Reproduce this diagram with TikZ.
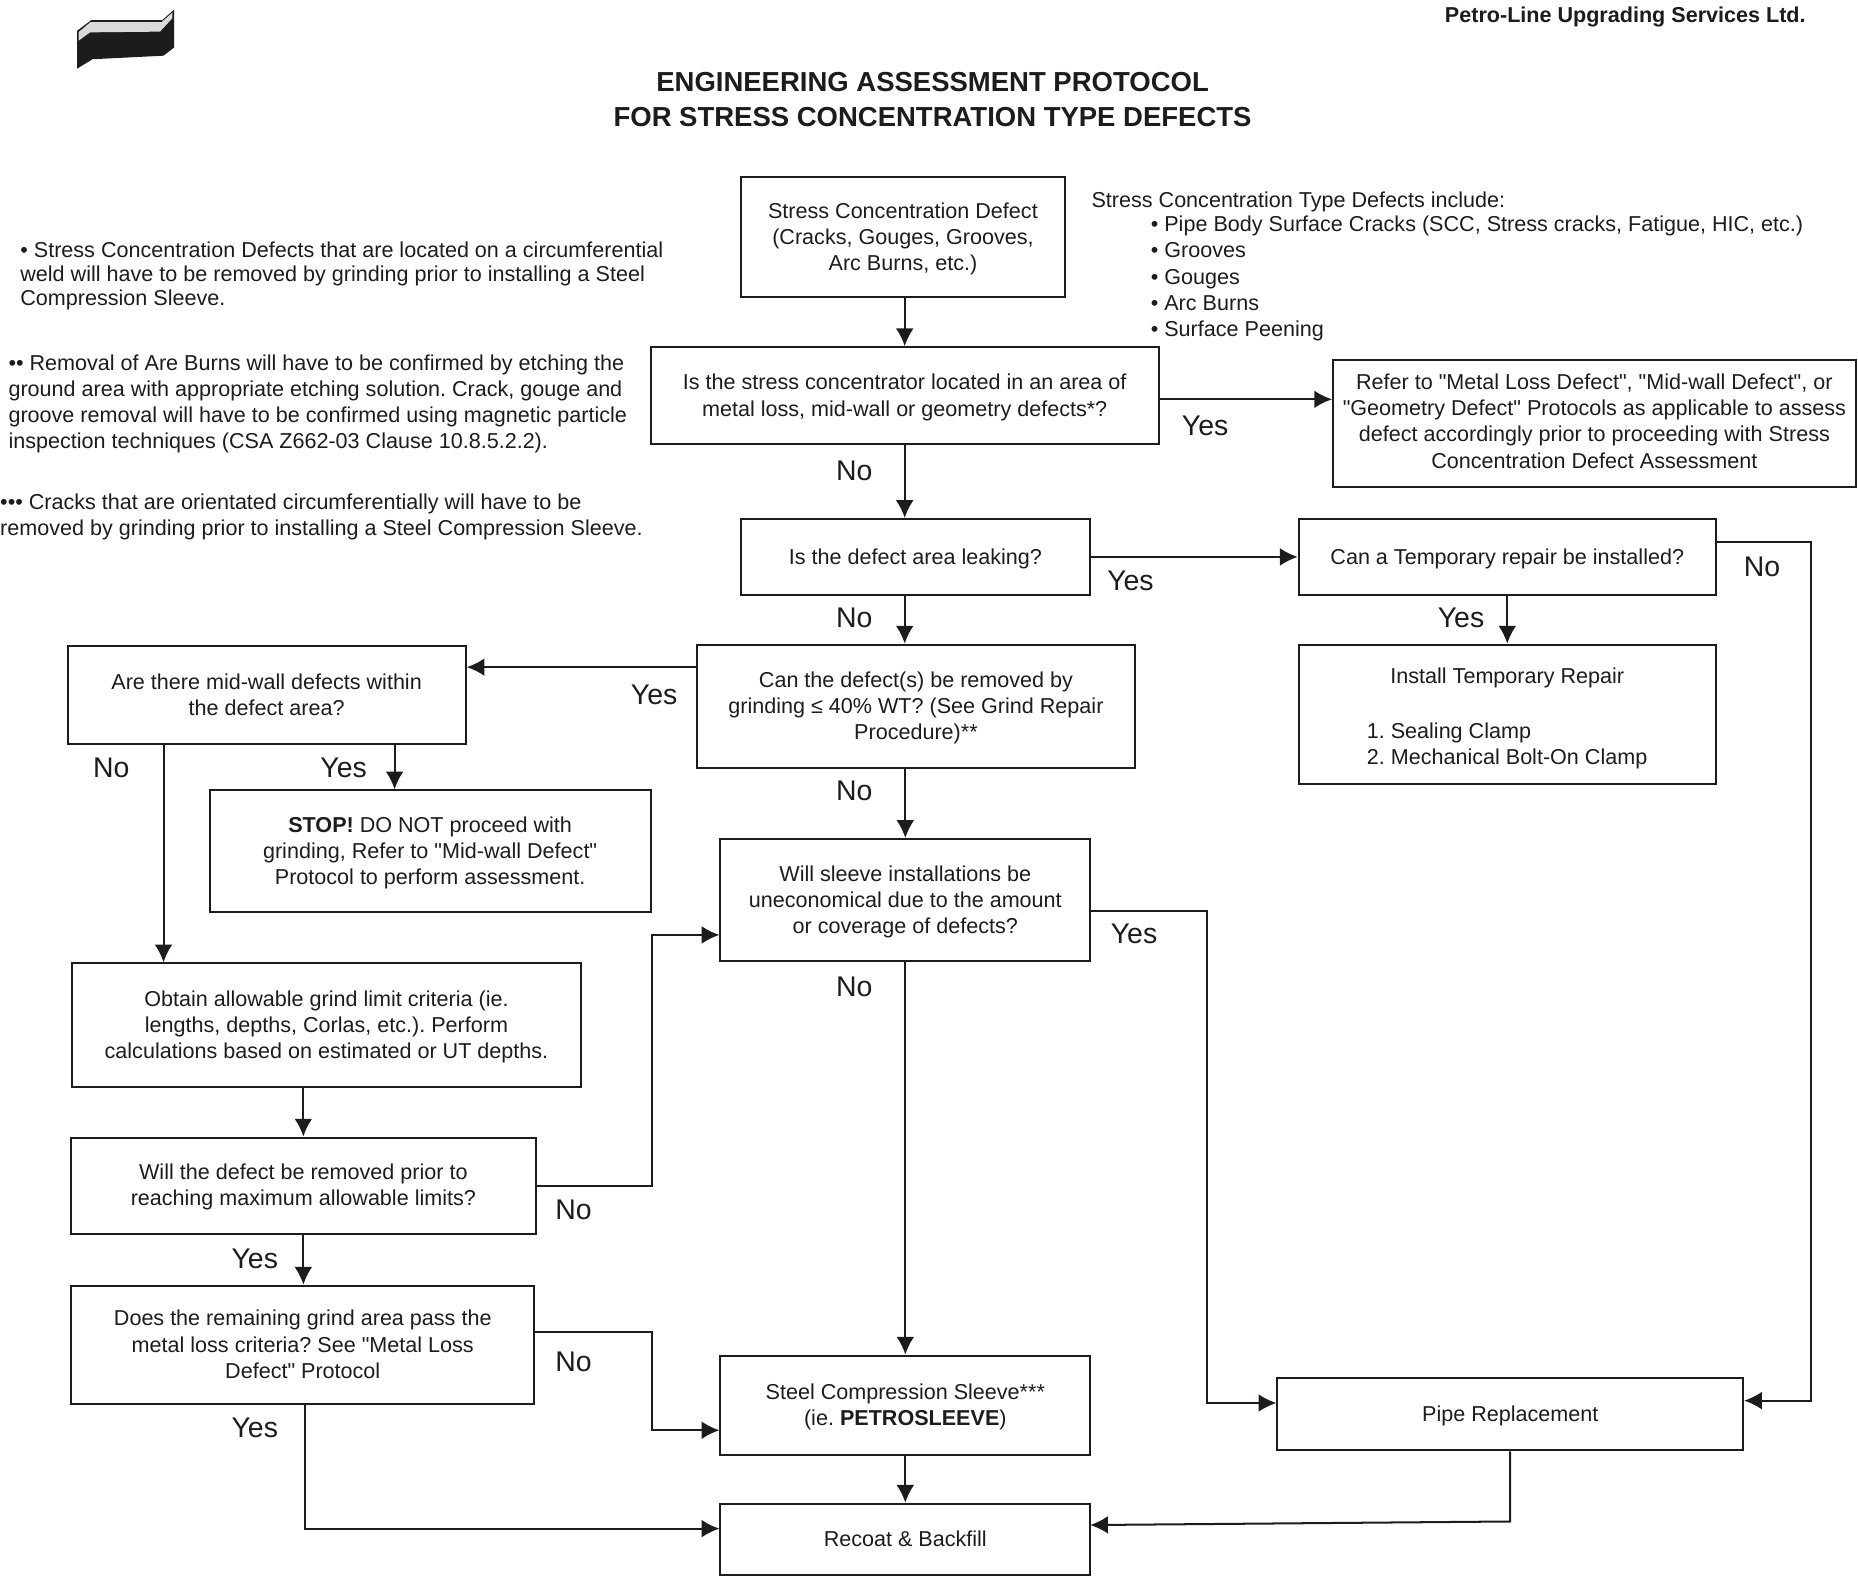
\documentclass[tikz,border=0pt]{standalone}
\usepackage{fontspec}
\setmainfont[Ligatures=TeXOff]{Liberation Sans}
\usetikzlibrary{arrows.meta}
\definecolor{inkblack}{RGB}{30,27,28}
\frenchspacing
\tikzset{
  flowbox/.style={draw=inkblack, line width=1.7pt, align=center, inner sep=0pt, text=inkblack,
    font=\fontsize{18.2}{22}\selectfont},
  flowline/.style={draw=inkblack, line width=1.7pt, inner sep=0pt, text=inkblack,
    font=\fontsize{18.2}{22}\selectfont,
    execute at begin node=\rule{0pt}{17pt},
    execute at end node=\rule[-5pt]{0pt}{5pt}},
  flownote/.style={anchor=west, align=left, inner sep=0pt, text=inkblack},
  answer/.style={inner sep=0pt, text=inkblack, font=\fontsize{24}{28}\selectfont},
  heading/.style={inner sep=0pt, align=center, text=inkblack, font=\bfseries\fontsize{23.2}{30}\selectfont},
  arr/.style={draw=inkblack, line width=1.7pt, -{Latex[length=15pt,width=15pt]}}
}
\newcommand{\bnode}[5]{\node [flowbox, minimum width=#3pt, minimum height=#4pt] (#1) at (#2) {\rule{0pt}{16pt}#5}}
\newcommand{\lnode}[5]{\node [flowline, minimum width=#3pt, minimum height=#4pt] (#1) at (#2) {#5}}
\newcommand{\anode}[3]{\node [answer] (#1) at (#2) {#3}}

\begin{document}
\begin{tikzpicture}[x=1pt, y=-1pt]
\useasboundingbox (0,0) rectangle (1568,1330);

% logo
\fill[inkblack] (65,26) -- (77,17) -- (137,17) -- (147,8) -- (147,40) -- (138,47) -- (78,50) -- (65,58) -- cycle;
\fill[gray!30] (66.4,27) -- (76.5,18.6) -- (136.4,18.6) -- (145.4,10.7) -- (145.4,15.5) -- (135,26.7) -- (76,27.3) -- (66.4,34.3) -- cycle;

% headings
\node [heading, anchor=east, font=\bfseries\fontsize{18.2}{22}\selectfont] (COMPANY) at (1524,14) {Petro-Line Upgrading Services Ltd.};
\node [heading] (TITLE) at (787,84) {ENGINEERING ASSESSMENT PROTOCOL\\FOR STRESS CONCENTRATION TYPE DEFECTS};

% notes
\node [flownote, font=\fontsize{18.2}{20}\selectfont] (NOTEA) at (17,233) {• Stress Concentration Defects that are located on a circumferential\\weld will have to be removed by grinding prior to installing a Steel\\Compression Sleeve.};
\node [flownote, font=\fontsize{18.2}{22}\selectfont] (NOTEB) at (7,341) {•• Removal of Are Burns will have to be confirmed by etching the\\ground area with appropriate etching solution. Crack, gouge and\\groove removal will have to be confirmed using magnetic particle\\inspection techniques (CSA Z662-03 Clause 10.8.5.2.2).};
\node [flownote, font=\fontsize{18.2}{22}\selectfont] (NOTEC) at (0,436) {••• Cracks that are orientated circumferentially will have to be\\removed by grinding prior to installing a Steel Compression Sleeve.};
\node [flownote, font=\fontsize{18.2}{22}\selectfont] (TYPES) at (921,170) {Stress Concentration Type Defects include:};
\node [flownote, font=\fontsize{18.2}{22.3}\selectfont] (TYPELIST) at (971,235) {• Pipe Body Surface Cracks (SCC, Stress cracks, Fatigue, HIC, etc.)\\• Grooves\\• Gouges\\• Arc Burns\\• Surface Peening};

% boxes
\bnode{START}{762,200}{274}{102}{Stress Concentration Defect\\(Cracks, Gouges, Grooves,\\Arc Burns, etc.)};
\bnode{LOC}{763.5,334}{429}{82}{Is the stress concentrator located in an area of\\metal loss, mid-wall or geometry defects*?};
\bnode{REFER}{1345.5,357.5}{441}{107}{\rule{0pt}{18pt}Refer to "Metal Loss Defect", "Mid-wall Defect", or\\"Geometry Defect" Protocols as applicable to assess\\defect accordingly prior to proceeding with Stress\\Concentration Defect Assessment\rule[-9pt]{0pt}{9pt}};
\lnode{LEAK}{772.5,470}{295}{64}{Is the defect area leaking?};
\lnode{TEMP}{1272,470}{352}{64}{Can a Temporary repair be installed?};
\bnode{GRIND}{773,596}{370}{104}{Can the defect(s) be removed by\\grinding ≤ 40\% WT? (See Grind Repair\\Procedure)**};
\bnode{INSTALL}{1272,603}{352}{118}{\rule{0pt}{20pt}Install Temporary Repair\\[24pt]\makebox[237pt][l]{1. Sealing Clamp}\\\makebox[237pt][l]{2. Mechanical Bolt-On Clamp}};
\bnode{MIDWALL}{225,586.5}{336}{83}{Are there mid-wall defects within\\the defect area?\rule[-4pt]{0pt}{4pt}};
\bnode{STOP}{363,718.5}{372}{103}{\textbf{STOP!} DO NOT proceed with\\grinding, Refer to "Mid-wall Defect"\\Protocol to perform assessment.};
\bnode{SLEEVEQ}{764,759.5}{312}{103}{Will sleeve installations be\\uneconomical due to the amount\\or coverage of defects?};
\bnode{OBTAIN}{275.5,865}{429}{104}{Obtain allowable grind limit criteria (ie.\\lengths, depths, Corlas, etc.). Perform\\calculations based on estimated or UT depths.};
\bnode{REMOVED}{256,1000.5}{392}{81}{Will the defect be removed prior to\\reaching maximum allowable limits?};
\bnode{PASS}{255.5,1135}{391}{100}{Does the remaining grind area pass the\\metal loss criteria? See "Metal Loss\\Defect" Protocol\rule[-4pt]{0pt}{4pt}};
\bnode{SLEEVE}{764,1186}{312}{84}{Steel Compression Sleeve***\\(ie. \textbf{PETROSLEEVE})};
\lnode{PIPE}{1274.5,1193.5}{393}{61}{Pipe Replacement};
\lnode{RECOAT}{764,1299}{312}{60}{Recoat \& Backfill};

% elbows and off-centre ends
\coordinate (YREFER) at (0,337);
\coordinate (YMID) at (0,563);
\coordinate (XOBTAIN) at (138,0);
\coordinate (XSTOP) at (333,0);
\coordinate (TEMPA) at (1528,457);
\coordinate (TEMPB) at (1528,1182);
\coordinate (SQA) at (1019,769);
\coordinate (SQB) at (1019,1184);
\coordinate (REMA) at (550,1001);
\coordinate (REMB) at (550,789);
\coordinate (PASA) at (550,1124);
\coordinate (PASB) at (550,1207);
\coordinate (PASC) at (257,1290);
\coordinate (PIPEA) at (1275,1284);
\coordinate (RECIN) at (920,1287);

% connectors
\draw[arr] (LOC |- START.south) -- (LOC.north);
\draw[arr] (LOC.east |- YREFER) -- (REFER.west |- YREFER);
\draw[arr] (LOC) -- (LOC |- LEAK.north);
\draw[arr] (LEAK) -- (TEMP);
\draw[arr] (LOC |- LEAK.south) -- (LOC |- GRIND.north);
\draw[arr] (TEMP) -- (INSTALL);
\draw[arr] (TEMP.east |- TEMPA) -- (TEMPA) -- (TEMPB) -- (PIPE.east |- TEMPB);
\draw[arr] (GRIND.west |- YMID) -- (MIDWALL.east |- YMID);
\draw[arr] (XOBTAIN |- MIDWALL.south) -- (XOBTAIN |- OBTAIN.north);
\draw[arr] (XSTOP |- MIDWALL.south) -- (XSTOP |- STOP.north);
\draw[arr] (SLEEVEQ |- GRIND.south) -- (SLEEVEQ);
\draw[arr] (SLEEVEQ) -- (SLEEVE);
\draw[arr] (SLEEVEQ.east |- SQA) -- (SQA) -- (SQB) -- (PIPE.west |- SQB);
\draw[arr] (REMOVED |- OBTAIN.south) -- (REMOVED);
\draw[arr] (REMOVED.east |- REMA) -- (REMA) -- (REMB) -- (SLEEVEQ.west |- REMB);
\draw[arr] (REMOVED) -- (REMOVED |- PASS.north);
\draw[arr] (PASS.east |- PASA) -- (PASA) -- (PASB) -- (SLEEVE.west |- PASB);
\draw[arr] (PASC |- PASS.south) -- (PASC) -- (RECOAT.west |- PASC);
\draw[arr] (SLEEVE) -- (RECOAT);
\draw[arr] (PIPE) -- (PIPE |- PIPEA) -- (RECIN);

% answers
\anode{ANSA}{721,397}{No};
\anode{ANSB}{1017,359}{Yes};
\anode{ANSC}{954,490}{Yes};
\anode{ANSD}{721,521}{No};
\anode{ANSE}{1233,521}{Yes};
\anode{ANSF}{1487,478}{No};
\anode{ANSG}{552,586}{Yes};
\anode{ANSH}{94,648}{No};
\anode{ANSI}{290,648}{Yes};
\anode{ANSJ}{721,667}{No};
\anode{ANSK}{957,788}{Yes};
\anode{ANSL}{721,833}{No};
\anode{ANSM}{484,1021}{No};
\anode{ANSN}{215,1062}{Yes};
\anode{ANSO}{484,1149}{No};
\anode{ANSP}{215,1205}{Yes};

\end{tikzpicture}
\end{document}
